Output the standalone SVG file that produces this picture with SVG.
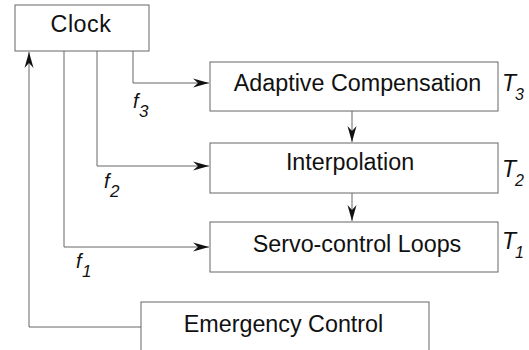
<svg xmlns="http://www.w3.org/2000/svg" width="529" height="350" viewBox="0 0 529 350">
<style>
.box{fill:#fff;stroke:#666;stroke-width:1}
.lbl{font-family:"Liberation Sans",Arial,sans-serif;font-size:23.3px;fill:#111;text-anchor:middle}
.conn{fill:none;stroke:#666;stroke-width:1}
.it{font-family:"Liberation Sans",Arial,sans-serif;font-style:italic;fill:#111}
</style>
<defs>
<marker id="ah" markerUnits="userSpaceOnUse" markerWidth="18" markerHeight="12" viewBox="0 -6 18 12" refX="16" refY="0" orient="auto">
<path d="M0,-4.5 L16,0 L0,4.5 L5,0 z" fill="#111"/>
</marker>
</defs>
<g id="connectors">
<path class="conn" d="M133,51 V83 H209" marker-end="url(#ah)"/>
<path class="conn" d="M97,51 V166 H209" marker-end="url(#ah)"/>
<path class="conn" d="M64,51 V247 H209" marker-end="url(#ah)"/>
<path class="conn" d="M141,327 H29 V52" marker-end="url(#ah)"/>
<path class="conn" d="M352,111 V142" marker-end="url(#ah)"/>
<path class="conn" d="M352,193 V221" marker-end="url(#ah)"/>
<text class="it" x="133" y="108" font-size="20">f</text>
<text class="it" x="139" y="117" font-size="17">3</text>
<text class="it" x="104" y="188" font-size="20">f</text>
<text class="it" x="110" y="197" font-size="17">2</text>
<text class="it" x="76" y="268" font-size="20">f</text>
<text class="it" x="82" y="277" font-size="17">1</text>
</g>
<g id="clock">
<rect class="box" x="15" y="5" width="134" height="46"/>
<text class="lbl" x="81" y="32" font-size="24" letter-spacing="0.5">Clock</text>
</g>
<g id="adaptive">
<rect class="box" x="210" y="62" width="288" height="49"/>
<text class="lbl" x="357.5" y="91">Adaptive Compensation</text>
<text class="it" x="502" y="91" font-size="23">T</text>
<text class="it" x="515" y="100" font-size="16">3</text>
</g>
<g id="interpolation">
<rect class="box" x="210" y="143" width="288" height="50"/>
<text class="lbl" x="350" y="170">Interpolation</text>
<text class="it" x="502" y="177" font-size="23">T</text>
<text class="it" x="515" y="186" font-size="16">2</text>
</g>
<g id="servo">
<rect class="box" x="210" y="222" width="288" height="50"/>
<text class="lbl" x="357" y="252">Servo-control Loops</text>
<text class="it" x="502" y="249" font-size="23">T</text>
<text class="it" x="515" y="258" font-size="16">1</text>
</g>
<g id="emergency">
<rect class="box" x="141" y="302" width="288" height="60"/>
<text class="lbl" x="283.5" y="332">Emergency Control</text>
</g>
</svg>
